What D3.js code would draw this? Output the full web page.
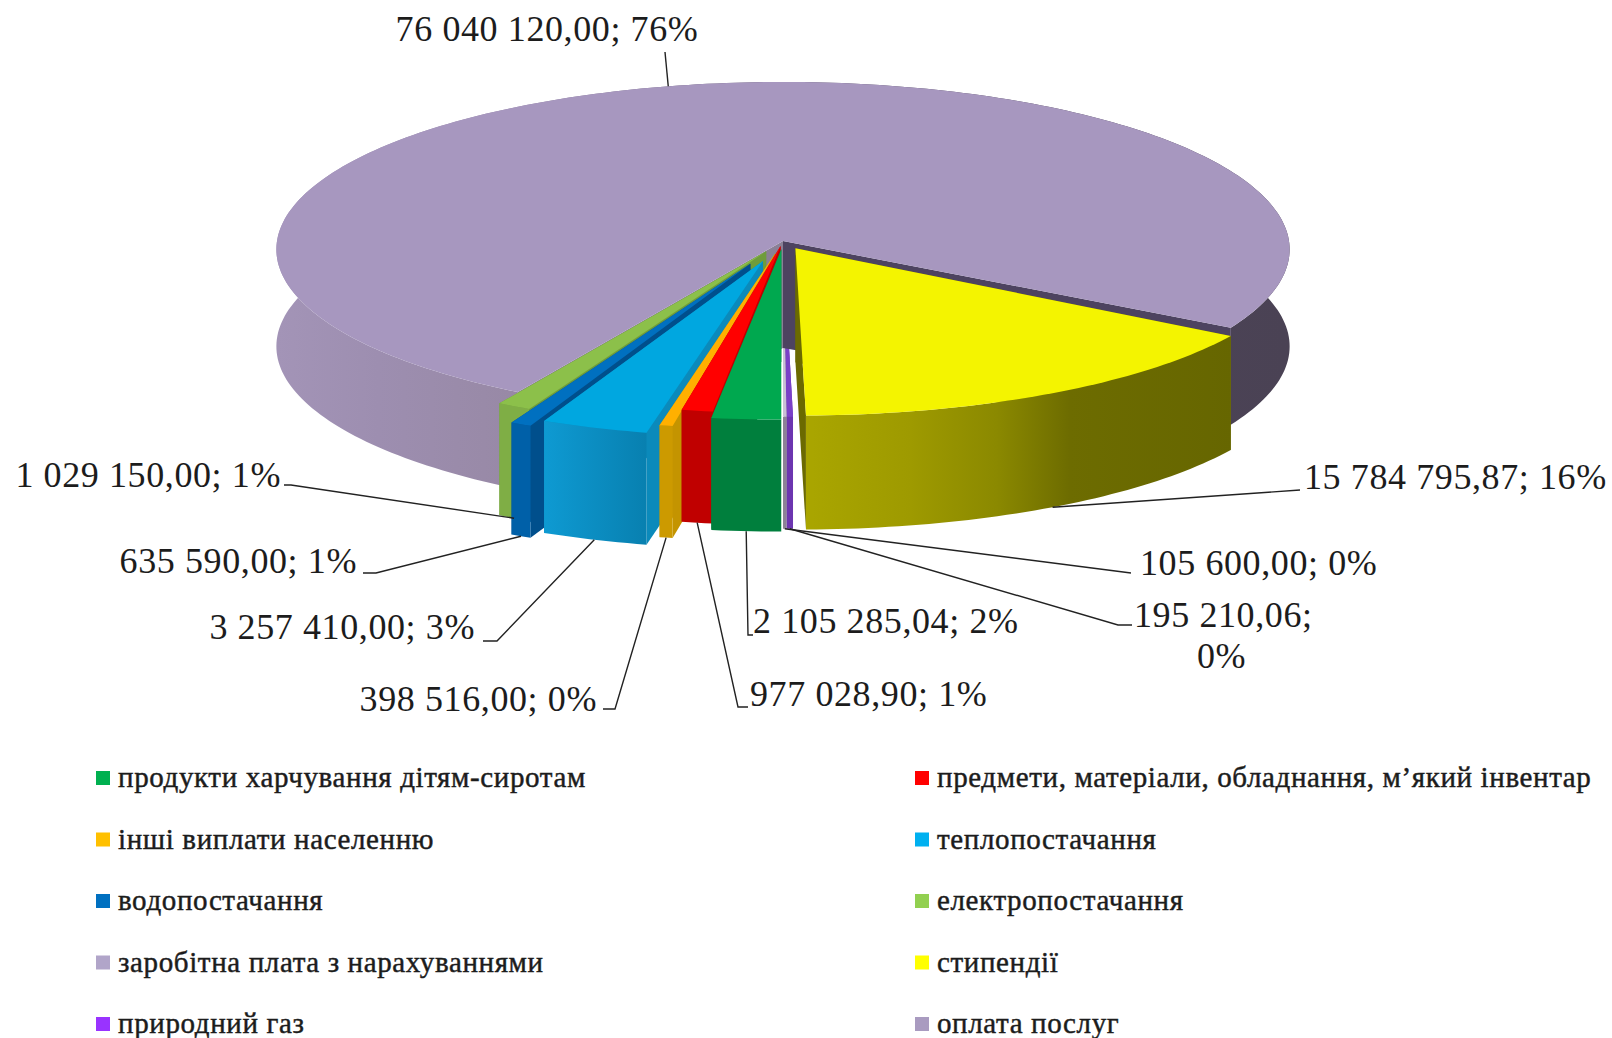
<!DOCTYPE html>
<html>
<head>
<meta charset="utf-8">
<script src="https://cdn.jsdelivr.net/npm/d3@7"></script>
<style>
body { margin:0; background:#fff; }
text { font-family:"Liberation Serif", serif; fill:#1c1c1c; }
</style>
</head>
<body>
<script>
var categories = ["продукти харчування дітям-сиротам", "предмети, матеріали, обладнання, м’який інвентар",
	"інші виплати населенню", "теплопостачання", "водопостачання", "електропостачання",
	"заробітна плата з нарахуваннями", "стипендії", "природний газ", "оплата послуг"];
var values = [2105285.04, 977028.90, 398516.00, 3257410.00, 635590.00, 1029150.00, 76040120.00, 15784795.87, 195210.06, 105600.00];

var topColors  = ["#00a84f", "#ff0000", "#ffb000", "#00a7e0", "#0070c0", "#8cc04a", "#a797bf", "#f4f400", "#7a40c8", "#c9c1d6"];
var swatches   = ["#00b050", "#ff0000", "#ffc000", "#00b0f0", "#0070c0", "#92d050", "#b1a5c9", "#ffff00", "#9933ff", "#a99bc0"];
var wallStops  = [["#007f3d","#007f3d"], ["#c00000","#c00000"], ["#cc9a00","#cc9a00"], ["#0e9ad2","#0880b0"], ["#0060a8","#0060a8"], ["#7fae45","#7fae45"],
	null, null, ["#6c35b0","#6c35b0"], ["#8c8296","#8c8296"]];
// [wall at start angle, wall at end angle]
var sideColors = [["#007f3d","#007f3d"], ["#c00000","#c00000"], ["#c49400","#c49400"], ["#0b8abb","#0b8abb"], ["#004f8c","#004f8c"], ["#6f9c3c","#6f9c3c"],
	["#8a8096","#4d4360"], ["#6b6a00","#6b6a00"], ["#6c35b0","#6c35b0"], ["#8c8296","#8c8296"]];
// how far each slice is pulled out, and how long it is across and along the view
var explode = [0.05, 0.03, 0.075, 0.125, 0.15, 0.07, 0, 0.05, 0, 0];
var reachU  = [1, 0.97, 1, 1, 1, 1, 1, 0.99, 1, 1];
var reachV  = [0.965, 0.95, 0.995, 0.99, 1, 1, 1, 0.95, 1, 1];
var rimDepth = [112, 112, 112, 112, 112, 112, 97, 114, 112, 112];
var endTrim = [0, 0, 0, 0, 0, 0, 0.035, 0, 0, 0];
var drawOrder = [8, 9, 6, 7, 5, 4, 3, 2, 1, 0];

// label text position and the leader line bend
var labelLayout = [
	{ x:753,  y:633, anchor:"start", bend:[[748,635],[753,635]] },
	{ x:750,  y:706, anchor:"start", bend:[[738,707],[748,707]] },
	{ x:597,  y:711, anchor:"end",   bend:[[615,709],[603,709]] },
	{ x:475,  y:639, anchor:"end",   bend:[[497,641],[483,641]] },
	{ x:357,  y:573, anchor:"end",   bend:[[376,573],[363,573]] },
	{ x:281,  y:487, anchor:"end",   bend:[[291,485],[284,485]] },
	{ x:547,  y:41,  anchor:"middle",bend:[[665,52]] },
	{ x:1304, y:489, anchor:"start", bend:[[1300,490]] },
	{ x:1134, y:627, anchor:"start", bend:[[1118,625],[1132,625]] },
	{ x:1140, y:575, anchor:"start", bend:[[1131,573]] }
];

var cx = 783, cy = 241, rx = 506, ry = 167, persp = 0.05;

var svg = d3.select("body")
	.append("svg")
	.attr("width", 1612)
	.attr("height", 1038)
	.attr("viewBox", "0 0 1612 1038");
var defs = svg.append("defs");

var total = d3.sum(values);
var arcs = d3.pie().sort(null).startAngle(Math.PI).endAngle(3 * Math.PI)(values);

var fmt = d3.formatLocale({ decimal:",", thousands:" ", grouping:[3], currency:["",""] }).format(",.2f");

// disc point -> screen, with a little perspective toward the viewer
function project(u, v, down){
	var s = 1 / (1 - persp * v);
	return [cx + rx * u * s, cy + ry * v * s + down];
}
function apex(i){
	var mid = (arcs[i].startAngle + arcs[i].endAngle) / 2;
	return [Math.sin(mid) * explode[i], -Math.cos(mid) * explode[i]];
}
function rimPoint(i, a, z){
	var o = apex(i);
	return project(o[0] + Math.sin(a) * reachU[i], o[1] - Math.cos(a) * reachV[i], z * rimDepth[i]);
}
function rim(i, z){
	var a0 = arcs[i].startAngle, a1 = arcs[i].endAngle - endTrim[i];
	var n = Math.max(2, Math.ceil((a1 - a0) / 0.02));
	return d3.range(n + 1).map(function(k){ return rimPoint(i, a0 + (a1 - a0) * k / n, z); });
}
function apexPoint(i, z){
	var o = apex(i);
	// the wall of the big slice is seen a bit deeper at the middle
	return project(o[0], o[1], z * Math.max(rimDepth[i], 107));
}
var line = d3.line();
function poly(pts){ return line(pts) + "Z"; }

function wallGradient(id, x0, x1, stops){
	var g = defs.append("linearGradient").attr("id", id)
		.attr("gradientUnits", "userSpaceOnUse")
		.attr("x1", x0).attr("x2", x1).attr("y1", 0).attr("y2", 0);
	stops.forEach(function(s){ g.append("stop").attr("offset", s[0]).attr("stop-color", s[1]); });
}
function wallFill(i){
	if (i == 6) return "url(#wall-6)";
	if (i == 7) return "url(#wall-7)";
	var e = d3.extent(rim(i, 1), function(p){ return p[0]; });
	wallGradient("wall-" + i, e[0], e[1], [[0, wallStops[i][0]], [1, wallStops[i][1]]]);
	return "url(#wall-" + i + ")";
}
wallGradient("wall-6", cx - rx, cx + rx, [[0, "#a394b7"], [0.1, "#9d8eb0"], [0.23, "#9889a6"], [0.5, "#5a506a"], [0.75, "#4d4458"], [1, "#4a4254"]]);
wallGradient("wall-7", cx + 20, cx + 450, [[0, "#aaa600"], [0.25, "#9e9a00"], [0.45, "#8b8900"], [0.62, "#6d6c00"], [1, "#666600"]]);

var slices = svg.append("g").selectAll("g").data(drawOrder).enter().append("g");

slices.each(function(i){
	var g = d3.select(this);
	var top = rim(i, 0), bottom = rim(i, 1);
	var p0 = apexPoint(i, 0), p1 = apexPoint(i, 1);
	// side walls
	g.append("path").attr("fill", sideColors[i][0])
		.attr("d", poly([p0, top[0], bottom[0], p1]));
	g.append("path").attr("fill", sideColors[i][1])
		.attr("d", poly([p0, top[top.length - 1], bottom[bottom.length - 1], p1]));
	// outer wall
	g.append("path").attr("fill", wallFill(i))
		.attr("d", poly(top.concat(bottom.slice().reverse())));
	// top face
	g.append("path").attr("fill", topColors[i])
		.attr("d", poly([p0].concat(top)));
});

// leader lines and data labels
var labels = svg.append("g").selectAll("g").data(arcs).enter().append("g");

labels.append("path")
	.attr("fill", "none")
	.attr("stroke", "#222")
	.attr("stroke-width", 1.4)
	.attr("d", function(d, i){
		var mid = (d.startAngle + d.endAngle) / 2;
		var start = rimPoint(i, mid, i == 6 ? 0 : 1);
		return line([start].concat(labelLayout[i].bend));
	});

labels.append("text")
	.attr("font-size", 36)
	.attr("letter-spacing", 0.6)
	.attr("text-anchor", function(d, i){ return labelLayout[i].anchor; })
	.attr("x", function(d, i){ return labelLayout[i].x; })
	.attr("y", function(d, i){ return labelLayout[i].y; })
	.each(function(d, i){
		var s = fmt(d.data) + "; " + Math.round(d.data / total * 100) + "%";
		if (i == 8) {
			var t = d3.select(this), parts = s.split(" 0%");
			t.append("tspan").text(parts[0]);
			t.append("tspan").attr("x", labelLayout[i].x + 63).attr("dy", 41).text("0%");
		} else {
			d3.select(this).text(s);
		}
	});

// legend, two columns
var legendRow = d3.scalePoint().domain(d3.range(5)).range([778, 1024]);
var legendCol = [96, 915];

var legend = svg.append("g").selectAll("g").data(categories).enter().append("g")
	.attr("transform", function(d, i){
		return "translate(" + legendCol[i % 2] + "," + legendRow(Math.floor(i / 2)) + ")";
	});
legend.append("rect")
	.attr("x", 0).attr("y", -7)
	.attr("width", 14).attr("height", 14)
	.attr("fill", function(d, i){ return swatches[i]; });
legend.append("text")
	.attr("x", 22).attr("y", 9)
	.attr("font-size", 29)
	.attr("letter-spacing", 0.62)
	.attr("stroke", "#1c1c1c")
	.attr("stroke-width", 0.45)
	.text(function(d){ return d; });
</script>
</body>
</html>
